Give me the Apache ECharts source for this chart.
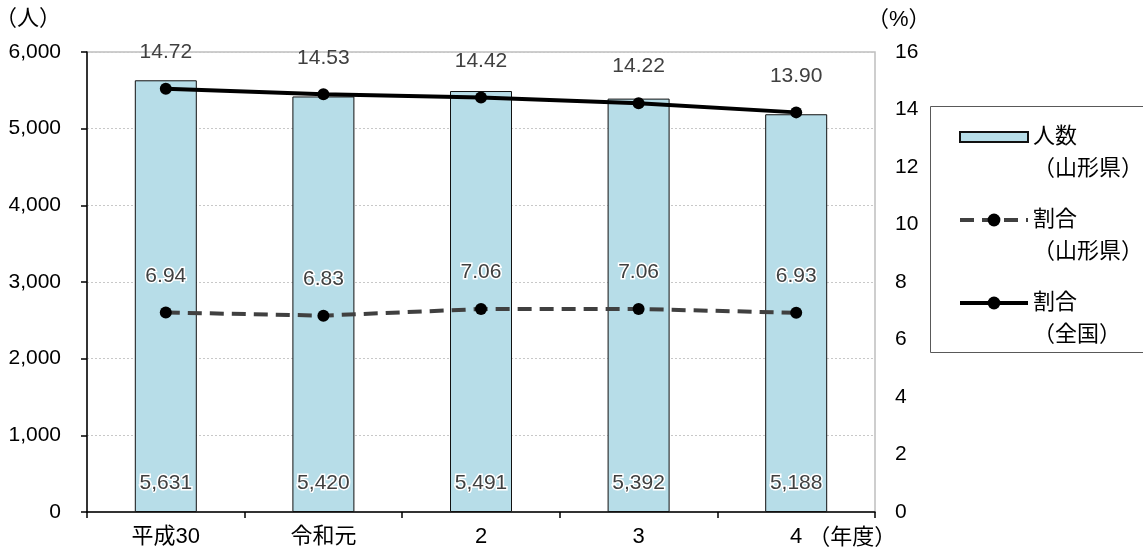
<!DOCTYPE html>
<html><head><meta charset="utf-8">
<script src="https://cdn.jsdelivr.net/npm/echarts@6/dist/echarts.min.js"></script>
<style>html,body{margin:0;padding:0;background:#fff}#c{width:1143px;height:552px}</style>
</head><body><div id="c"></div>
<script>
const categories = ['平成30', '令和元', '2', '3', '4'];
const peopleYamagata = [5631, 5420, 5491, 5392, 5188];
const rateYamagata = [6.94, 6.83, 7.06, 7.06, 6.93];
const rateNational = [14.72, 14.53, 14.42, 14.22, 13.90];
const leftTicks = { min: 0, max: 6000, interval: 1000 };
const rightTicks = { min: 0, max: 16, interval: 2 };
const names = ['人数\n（山形県）', '割合\n（山形県）', '割合\n（全国）'];

const FONT = "'Liberation Sans', 'Noto Sans CJK JP', sans-serif";
const NUM = 21, CJK = 22;
const chart = echarts.init(document.getElementById('c'), null, { renderer: 'canvas' });
const halo = { textBorderColor: '#fff', textBorderWidth: 3 };
chart.setOption({
  animation: false,
  textStyle: { fontFamily: FONT },
  grid: { left: 87, right: 268, top: 52, bottom: 40, containLabel: false, outerBoundsMode: 'none', show: true, borderColor: '#bfbfbf', borderWidth: 1.5, backgroundColor: 'transparent' },
  legend: {
    orient: 'vertical', left: 958, top: 89, padding: 0, itemGap: -13,
    itemWidth: 68, itemHeight: 16,
    formatter: n => '\n' + n,
    textStyle: { fontSize: CJK, color: '#000', lineHeight: 32, fontFamily: FONT },
    data: [
      { name: names[0], icon: 'path://M0,0 L68,0 L68,10 L0,10 Z' },
      { name: names[1], lineStyle: { width: 4 } },
      { name: names[2], lineStyle: { width: 4 } }
    ]
  },
  graphic: [{ type: 'rect', shape: { x: 930.5, y: 106.5, width: 260, height: 246 }, style: { fill: 'none', stroke: '#595959', lineWidth: 1 }, z: 10 }],
  xAxis: {
    type: 'category', data: categories,
    name: '（年度）', nameLocation: 'end', nameGap: 16,
    nameTextStyle: { fontSize: CJK, color: '#000', align: 'right', verticalAlign: 'top', padding: [15, 0, 0, 0], fontFamily: FONT },
    axisLine: { lineStyle: { color: '#000', width: 1.5 } },
    axisTick: { show: true, inside: false, length: 6, lineStyle: { color: '#000', width: 1.5 } },
    axisLabel: { fontSize: CJK, color: '#000', margin: 14, fontFamily: FONT }
  },
  yAxis: [{
    type: 'value', min: leftTicks.min, max: leftTicks.max, interval: leftTicks.interval,
    name: '（人）', nameLocation: 'end', nameGap: 33,
    nameTextStyle: { fontSize: CJK, color: '#000', align: 'right', verticalAlign: 'middle', padding: [0, 26, 0, 0], fontFamily: FONT },
    axisLine: { show: true, lineStyle: { color: '#000', width: 1.5 } },
    axisTick: { show: true, length: 6, lineStyle: { color: '#000', width: 1.5 } },
    axisLabel: { fontSize: NUM, color: '#000', margin: 26, formatter: v => v.toLocaleString('en-US'), fontFamily: FONT },
    splitLine: { show: true, lineStyle: { color: '#c8c8c8', type: [2, 2], width: 1 } }
  }, {
    type: 'value', min: rightTicks.min, max: rightTicks.max, interval: rightTicks.interval,
    name: '（%）', nameLocation: 'end', nameGap: 32,
    nameTextStyle: { fontSize: CJK, color: '#000', align: 'left', verticalAlign: 'middle', padding: [0, 0, 0, -8], fontFamily: FONT },
    axisLine: { show: false }, axisTick: { show: false },
    axisLabel: { fontSize: NUM, color: '#000', margin: 20, fontFamily: FONT },
    splitLine: { show: false }
  }],
  series: [{
    name: names[0], type: 'bar', yAxisIndex: 0, data: peopleYamagata, barWidth: 62,
    itemStyle: { color: '#b7dde8', borderColor: '#111', borderWidth: 1 },
    label: { show: true, position: 'insideBottom', distance: 18, fontSize: NUM, color: '#404040', formatter: p => p.value.toLocaleString('en-US'), fontFamily: FONT, ...halo }
  }, {
    name: names[1], type: 'line', yAxisIndex: 1, data: rateYamagata,
    symbol: 'circle', symbolSize: 12, itemStyle: { color: '#000' },
    lineStyle: { color: '#404040', width: 4, type: [14, 8] },
    label: { show: true, position: 'top', distance: 20, fontSize: NUM, color: '#404040', formatter: p => p.value.toFixed(2), fontFamily: FONT, ...halo },
    z: 3
  }, {
    name: names[2], type: 'line', yAxisIndex: 1, data: rateNational,
    symbol: 'circle', symbolSize: 12, itemStyle: { color: '#000' },
    lineStyle: { color: '#000', width: 4 },
    label: { show: true, position: 'top', distance: 20, fontSize: NUM, color: '#404040', formatter: p => p.value.toFixed(2), fontFamily: FONT },
    z: 4
  }]
});
</script></body></html>
